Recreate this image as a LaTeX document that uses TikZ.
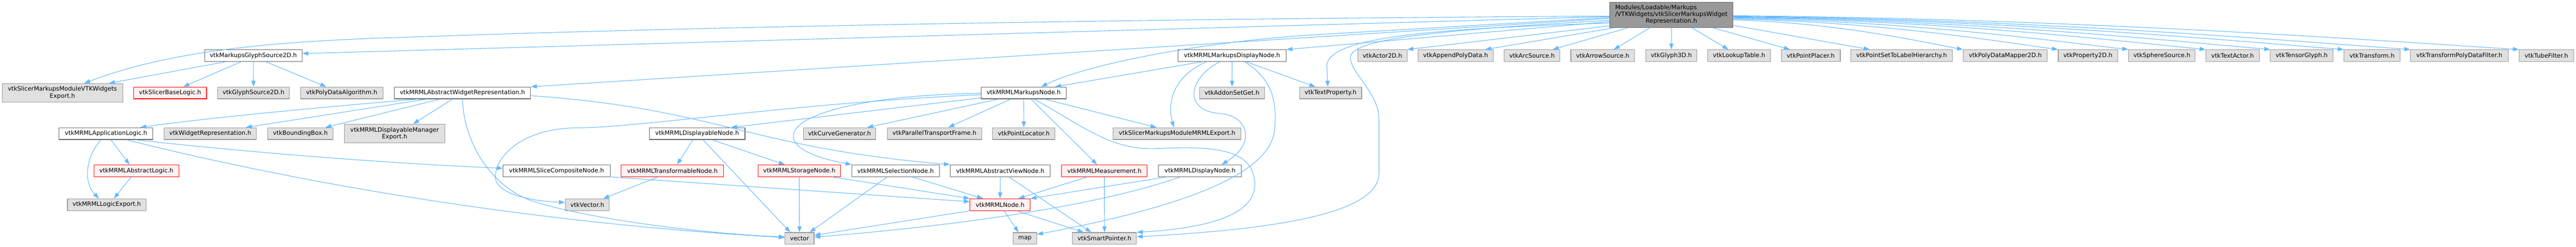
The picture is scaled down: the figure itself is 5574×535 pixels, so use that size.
\documentclass[tikz,border=0pt]{standalone}
\usepackage{fontspec}
\setmainfont{DejaVu Sans}
\usetikzlibrary{arrows.meta}
\definecolor{edgec}{HTML}{63B8FF}
\definecolor{gfill}{HTML}{E0E0E0}
\definecolor{gdraw}{HTML}{999999}
\definecolor{wdraw}{HTML}{666666}
\definecolor{rfill}{HTML}{FFF0F0}
\definecolor{rdraw}{HTML}{FF0000}
\definecolor{rootfill}{HTML}{999999}
\begin{document}
\begin{tikzpicture}[x=1pt,y=-1pt,
  base/.style={rectangle, inner sep=0pt, minimum height=25.5pt, line width=1.2pt, align=center, font=\fontsize{13}{14.7}\selectfont},
  gbox/.style={base, fill=gfill, draw=gdraw},
  wbox/.style={base, fill=white, draw=wdraw},
  rbox/.style={base, fill=rfill, draw=rdraw},
  rootbox/.style={base, fill=rootfill, draw=wdraw, minimum height=55pt},
  e/.style={draw=edgec, line width=1.2pt, -{Triangle[length=13pt,width=9pt]}}]
\useasboundingbox (0,0) rectangle (5574,535);
% row 0
\node[rootbox, minimum width=267pt] (root) at (3616.5,32.5) {\begin{tabular}{@{}l@{}}Modules/Loadable/Markups\\/VTKWidgets/vtkSlicerMarkupsWidget\\\multicolumn{1}{@{}c@{}}{Representation.h}\end{tabular}};
% row 1
\node[wbox, minimum width=210.6pt] (mgs2d) at (548.3,120.6) {vtkMarkupsGlyphSource2D.h};
\node[wbox, minimum width=234pt] (mdn) at (2666,120.6) {vtkMRMLMarkupsDisplayNode.h};
\node[gbox, minimum width=106.7pt] (actor2d) at (2991.3,120.6) {vtkActor2D.h};
\node[gbox, minimum width=163.4pt] (append) at (3149.7,120.6) {vtkAppendPolyData.h};
\node[gbox, minimum width=120.8pt] (arc) at (3315,120.6) {vtkArcSource.h};
\node[gbox, minimum width=138pt] (arrow) at (3468,120.6) {vtkArrowSource.h};
\node[gbox, minimum width=111pt] (glyph3d) at (3616.5,120.6) {vtkGlyph3D.h};
\node[gbox, minimum width=136pt] (lut) at (3763,120.6) {vtkLookupTable.h};
\node[gbox, minimum width=128pt] (placer) at (3918,120.6) {vtkPointPlacer.h};
\node[gbox, minimum width=219.6pt] (pslh) at (4114.8,120.6) {vtkPointSetToLabelHierarchy.h};
\node[gbox, minimum width=182pt] (pdm2d) at (4339,120.6) {vtkPolyDataMapper2D.h};
\node[gbox, minimum width=128.4pt] (prop2d) at (4517.8,120.6) {vtkProperty2D.h};
\node[gbox, minimum width=144.3pt] (sphere) at (4677.9,120.6) {vtkSphereSource.h};
\node[gbox, minimum width=115.7pt] (textactor) at (4830.9,120.6) {vtkTextActor.h};
\node[gbox, minimum width=135.2pt] (tensor) at (4980.4,120.6) {vtkTensorGlyph.h};
\node[gbox, minimum width=121pt] (transform) at (5132.5,120.6) {vtkTransform.h};
\node[gbox, minimum width=211pt] (tpdf) at (5321.5,120.6) {vtkTransformPolyDataFilter.h};
\node[gbox, minimum width=118pt] (tube) at (5510,120.6) {vtkTubeFilter.h};
% row 2
\node[gbox, minimum width=260.8pt, minimum height=40pt] (vwexp) at (135,201) {vtkSlicerMarkupsModuleVTKWidgets\\Export.h};
\node[rbox, minimum width=158pt] (sbl) at (368,201.3) {vtkSlicerBaseLogic.h};
\node[gbox, minimum width=155pt] (gs2d) at (548.5,201.3) {vtkGlyphSource2D.h};
\node[gbox, minimum width=178.6pt] (pda) at (739.3,201.3) {vtkPolyDataAlgorithm.h};
\node[wbox, minimum width=295pt] (awr) at (1000.5,201.3) {vtkMRMLAbstractWidgetRepresentation.h};
\node[wbox, minimum width=184pt] (mn) at (2215,201.3) {vtkMRMLMarkupsNode.h};
\node[gbox, minimum width=140.3pt] (addon) at (2665.9,201.3) {vtkAddonSetGet.h};
\node[gbox, minimum width=134.6pt] (textprop) at (2879.1,201.3) {vtkTextProperty.h};
% row 3
\node[wbox, minimum width=203pt] (applogic) at (229.5,289.4) {vtkMRMLApplicationLogic.h};
\node[gbox, minimum width=200pt] (widgetrep) at (455,289.4) {vtkWidgetRepresentation.h};
\node[gbox, minimum width=142pt] (bbox) at (650,289.4) {vtkBoundingBox.h};
\node[gbox, minimum width=217.5pt, minimum height=40.6pt] (dmexp) at (853.8,289.3) {vtkMRMLDisplayableManager\\Export.h};
\node[wbox, minimum width=207pt] (displayable) at (1508.5,289.4) {vtkMRMLDisplayableNode.h};
\node[gbox, minimum width=157pt] (curvegen) at (1816.5,289.4) {vtkCurveGenerator.h};
\node[gbox, minimum width=204pt] (ptf) at (2022,289.4) {vtkParallelTransportFrame.h};
\node[gbox, minimum width=134.5pt] (ploc) at (2215.3,289.4) {vtkPointLocator.h};
\node[gbox, minimum width=276pt] (mrmlexp) at (2547,289.4) {vtkSlicerMarkupsModuleMRMLExport.h};
% row 4
\node[rbox, minimum width=184pt] (alogic) at (295,369.9) {vtkMRMLAbstractLogic.h};
\node[wbox, minimum width=231.4pt] (slicecomp) at (1204.3,369.9) {vtkMRMLSliceCompositeNode.h};
\node[rbox, minimum width=222pt] (transformable) at (1455,369.9) {vtkMRMLTransformableNode.h};
\node[rbox, minimum width=179pt] (storage) at (1729.5,369.9) {vtkMRMLStorageNode.h};
\node[wbox, minimum width=189.5pt] (selection) at (1937.8,369.9) {vtkMRMLSelectionNode.h};
\node[wbox, minimum width=216.5pt] (aview) at (2164.3,369.9) {vtkMRMLAbstractViewNode.h};
\node[rbox, minimum width=185.5pt] (measurement) at (2389.8,369.9) {vtkMRMLMeasurement.h};
\node[wbox, minimum width=179pt] (displaynode) at (2596.5,369.9) {vtkMRMLDisplayNode.h};
% row 5
\node[gbox, minimum width=170pt] (logicexp) at (231,443.4) {vtkMRMLLogicExport.h};
\node[gbox, minimum width=95.6pt] (vtkvector) at (1270.8,443.4) {vtkVector.h};
\node[rbox, minimum width=130pt] (mrmlnode) at (2164,443.4) {vtkMRMLNode.h};
% row 6
\node[gbox, minimum width=62.8pt] (vector) at (1730,516.6) {vector};
\node[gbox, minimum width=50.5pt] (map) at (2217.8,516.6) {map};
\node[gbox, minimum width=138.3pt] (smartptr) at (2389.9,516.6) {vtkSmartPointer.h};

% ---- edges from root, left side
\draw[e] ([yshift=-2.5pt]root.west) .. controls (2500,40) and (1500,58) .. (900,80) .. controls (620,88) and (380,105) .. ([xshift=47pt]vwexp.north);
\draw[e] ([yshift=-3.5pt]root.west) -- ([yshift=4.6pt]mgs2d.east);
\draw[e] ([yshift=-7.5pt]root.west) -- (awr.north east);
\draw[e] ([yshift=-5.5pt]root.west) -- (2850,75) .. controls (2600,90) and (2350,140) .. ([xshift=38pt]mn.north);
\draw[e] ([yshift=-14.5pt]root.west) -- (mdn.north east);
\draw[e] ([yshift=-17.5pt]root.west) .. controls (3100,62) and (2880,80) .. (2871,140) -- ([xshift=-6pt]textprop.north);
\draw[e] ([yshift=-11.5pt]root.west) .. controls (3100,66) and (2921,85) .. (2922,125) .. controls (2923,160) and (2984,200) .. (2984,260) -- (2984,375) .. controls (2984,465) and (2750,497) .. ([yshift=3.6pt]smartptr.east);
\draw[e] ([yshift=-23.5pt]root.west) -- (actor2d.north east);
\draw[e] ([xshift=8pt]root.south west) -- ([xshift=64pt]append.north);
\draw[e] ([xshift=39pt]root.south west) -- ([xshift=44.6pt]arc.north);
\draw[e] ([xshift=87pt]root.south west) -- ([xshift=24pt]arrow.north);
\draw[e] (root.south) -- (glyph3d.north);
\draw[e] ([xshift=45pt]root.south) -- ([xshift=-23pt]lut.north);
\draw[e] ([xshift=91.5pt]root.south) -- ([xshift=-45pt]placer.north);
% ---- edges from root, right side
\draw[e] ([yshift=-22.5pt]root.east) -- ([xshift=-69pt]pslh.north);
\draw[e] ([yshift=-10.5pt]root.east) .. controls (3974,49.5) and (4148,88.5) .. (pdm2d.north west);
\draw[e] ([yshift=-8.5pt]root.east) .. controls (4067,47.7) and (4313,87.9) .. (prop2d.north west);
\draw[e] ([yshift=-7pt]root.east) .. controls (4135,46.4) and (4435,87.5) .. (sphere.north west);
\draw[e] ([yshift=-5.5pt]root.east) .. controls (4210,45) and (4568,87) .. (textactor.north west);
\draw[e] ([yshift=-4.5pt]root.east) .. controls (4273,44.1) and (4680,86.7) .. (tensor.north west);
\draw[e] ([yshift=-3.5pt]root.east) .. controls (4345,43.2) and (4808,86.4) .. (transform.north west);
\draw[e] ([yshift=-2.5pt]root.east) .. controls (4410,42.3) and (4923,86.1) .. (tpdf.north west);
\draw[e] ([yshift=-1.5pt]root.east) .. controls (4515,41.4) and (5111,85.8) .. (tube.north west);
% ---- vtkMarkupsGlyphSource2D
\draw[e] ([xshift=-61pt]mgs2d.south) -- ([xshift=100.7pt]vwexp.north);
\draw[e] ([xshift=-27pt]mgs2d.south) -- ([xshift=28.4pt]sbl.north);
\draw[e] (mgs2d.south) -- (gs2d.north);
\draw[e] ([xshift=27.4pt]mgs2d.south) -- ([xshift=-33.3pt]pda.north);
% ---- vtkMRMLAbstractWidgetRepresentation
\draw[e] ([xshift=-96.5pt]awr.south) .. controls (700,232) and (450,255) .. ([xshift=74pt]applogic.north);
\draw[e] ([xshift=-76.5pt]awr.south) -- ([xshift=77pt]widgetrep.north);
\draw[e] ([xshift=-48pt]awr.south) -- ([xshift=54pt]bbox.north);
\draw[e] ([xshift=-21.2pt]awr.south) -- ([xshift=40pt]dmexp.north);
\draw[e] (awr.south) .. controls (1005,320) and (1070,404) .. (1145,433) .. controls (1250,470) and (1500,505) .. ([yshift=3.3pt]vector.west);
\draw[e] ([yshift=-6pt]awr.east) .. controls (1550,235) and (1620,320) .. (aview.north west);
% ---- vtkMRMLMarkupsDisplayNode
\draw[e] ([xshift=-66pt]mdn.south) -- ([xshift=68pt]mn.north);
\draw[e] ([xshift=-56pt]mdn.south) .. controls (2540,165) and (2525,220) .. ([xshift=-7pt]mrmlexp.north);
\draw[e] ([xshift=-27pt]mdn.south) .. controls (2570,170) and (2560,240) .. (2640,246) .. controls (2700,250) and (2720,310) .. ([xshift=47pt]displaynode.north);
\draw[e] (mdn.south) -- (addon.north);
\draw[e] ([xshift=31pt]mdn.south) -- ([xshift=-33pt]textprop.north);
\draw[e] ([xshift=27pt]mdn.south) .. controls (2760,175) and (2762,230) .. (2758,280) .. controls (2750,380) and (2550,450) .. ([yshift=-4.5pt]map.north east);
% ---- vtkMRMLMarkupsNode
\draw[e] (mn.south) -- (ploc.north);
\draw[e] ([xshift=15.8pt]mn.south) -- ([xshift=-16pt]measurement.north);
\draw[e] ([xshift=22pt]mn.south) .. controls (2340,270) and (2400,325) .. (2500,322) .. controls (2620,316) and (2715,320) .. (2715,400) .. controls (2715,470) and (2600,495) .. (smartptr.north east);
\draw[e] ([xshift=45pt]mn.south) -- ([xshift=-44.6pt]mrmlexp.north);
\draw[e] ([xshift=-28pt]mn.south) -- ([xshift=30pt]ptf.north);
\draw[e] ([xshift=-54pt]mn.south) -- ([xshift=60pt]curvegen.north);
\draw[e] ([yshift=-10.7pt]mn.west) -- ([xshift=73.5pt]displayable.north);
\draw[e] ([yshift=-3.7pt]mn.west) .. controls (1700,225) and (1400,275) .. (1250,277) .. controls (1130,277) and (1070,340) .. (1072,385) .. controls (1074,420) and (1150,436) .. ([yshift=5pt]vtkvector.west);
\draw[e] ([yshift=-0.7pt]mn.west) .. controls (1900,205) and (1730,240) .. (1717,290) .. controls (1710,325) and (1780,345) .. (selection.north west);
% ---- vtkMRMLDisplayableNode
\draw[e] ([xshift=-9pt]displayable.south) -- ([xshift=10pt]transformable.north);
\draw[e] ([xshift=12.5pt]displayable.south) -- ([xshift=-20pt]vector.north);
\draw[e] ([xshift=32pt]displayable.south) -- ([xshift=-31.5pt]storage.north);
\draw[e] ([xshift=-31pt]transformable.south) -- ([xshift=34.6pt]vtkvector.north);
\draw[e] (slicecomp.south east) -- ([yshift=6.4pt]mrmlnode.west);
% ---- vtkMRMLApplicationLogic
\draw[e] ([xshift=-11pt]applogic.south) .. controls (185,340) and (180,395) .. ([xshift=-17pt]logicexp.north);
\draw[e] ([xshift=10.5pt]applogic.south) -- ([xshift=-14.6pt]alogic.north);
\draw[e] ([xshift=43.5pt]applogic.south) .. controls (600,385) and (1100,480) .. ([yshift=2pt]vector.west);
\draw[e] ([xshift=63.4pt]applogic.south) .. controls (500,326) and (800,352) .. ([yshift=5.4pt]slicecomp.west);
\draw[e] ([xshift=-11pt]alogic.south) -- ([xshift=15.4pt]logicexp.north);
% ---- row 4 to lower rows
\draw[e] (storage.south) -- (vector.north);
\draw[e] ([xshift=71pt]storage.south) -- (mrmlnode.north west);
\draw[e] ([xshift=-17.8pt]selection.south) -- ([xshift=22pt]vector.north);
\draw[e] ([xshift=35.8pt]selection.south) -- ([xshift=-37pt]mrmlnode.north);
\draw[e] (aview.south) -- (mrmlnode.north);
\draw[e] ([xshift=18.7pt]aview.south) -- ([xshift=-28.5pt]smartptr.north);
\draw[e] ([xshift=-36.8pt]measurement.south) -- ([xshift=40pt]mrmlnode.north);
\draw[e] (measurement.south) -- (smartptr.north);
\draw[e] ([xshift=-71.5pt]displaynode.south) -- (mrmlnode.north east);
\draw[e] ([xshift=-42.5pt]displaynode.south) .. controls (2350,455) and (2000,495) .. ([yshift=3pt]vector.east);
% ---- vtkMRMLNode
\draw[e] (mrmlnode.south west) -- ([yshift=7pt]vector.east);
\draw[e] ([xshift=8.8pt]mrmlnode.south) -- ([xshift=-14pt]map.north);
\draw[e] ([xshift=35.8pt]mrmlnode.south) -- ([xshift=-45pt]smartptr.north);
\end{tikzpicture}
\end{document}
